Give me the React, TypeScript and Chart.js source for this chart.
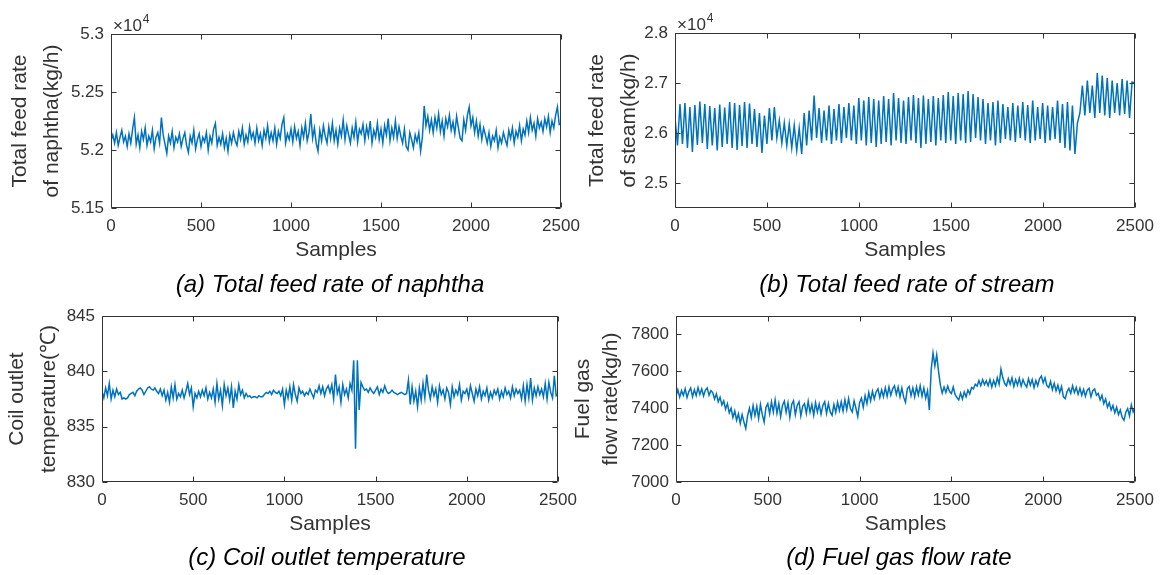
import React, { useEffect, useRef } from "react";
import { Chart, registerables } from "chart.js";

Chart.register(...registerables);
Chart.defaults.font.family = "'Liberation Sans', Arial, Helvetica, sans-serif";

// ---------------- data ----------------
const sampleTicks = [0, 500, 1000, 1500, 2000, 2500];
const naphthaTicks = [51500, 52000, 52500, 53000];
const steamTicks = [25000, 26000, 27000, 28000];
const coilTicks = [830, 835, 840, 845];
const fuelTicks = [7000, 7200, 7400, 7600, 7800];

// total feed rate of naphtha (kg/h), one value every 10 samples
const naphthaStep = 10;
const naphthaFeed = [
  52080, 52130, 52060, 52150, 52040, 52110, 52170, 52070, 52120, 52030,
  52140, 52060, 52180, 52280, 52050, 52130, 52020, 52160, 52090, 52190,
  52040, 52120, 52070, 52170, 52010, 52110, 52150, 52060, 52280, 52130,
  52050, 51970, 52120, 52060, 52160, 52020, 52110, 52070, 52140, 52030,
  52100, 52150, 52040, 51980, 52120, 52060, 52170, 52010, 52090, 52140,
  52030, 52110, 52070, 52150, 52000, 52120, 52060, 52180, 52230, 52040,
  52110, 52050, 52140, 52020, 52100, 51990, 52130, 52060, 52150, 52080,
  52040, 52160, 52090, 52190, 52050, 52130, 52070, 52200, 52100, 52150,
  52060, 52190, 52080, 52140, 52040, 52170, 52100, 52210, 52070, 52150,
  52080, 52190, 52050, 52160, 52100, 52220, 52280, 52060, 52140, 52090,
  52180, 52070, 52200, 52100, 52160, 52040, 52190, 52110, 52230, 52080,
  52150, 52310, 52100, 52190, 52060, 51990, 52170, 52080, 52210, 52120,
  52060, 52200, 52100, 52230, 52080, 52170, 52050, 52190, 52120, 52260,
  52090, 52210, 52130, 52060, 52190, 52110, 52240, 52070, 52180, 52140,
  52220, 52080, 52200, 52120, 52250, 52060, 52170, 52110, 52230, 52090,
  52180, 52060, 52210, 52130, 52270, 52080, 52190, 52110, 52250, 52100,
  52200, 52120, 52060, 52180, 52030, 52000, 52150, 52090, 52020, 52130,
  52070, 52150, 51990, 52110, 52380, 52210, 52290, 52170, 52260, 52150,
  52280, 52190, 52310, 52160, 52250, 52120, 52270, 52200, 52300, 52170,
  52240, 52140, 52290, 52190, 52100, 52080, 52260, 52170, 52300, 52370,
  52210, 52280, 52150, 52250, 52120, 52220, 52090, 52190, 52130, 52060,
  52150, 52030, 52120, 52080, 52170, 52020, 52110, 52060, 52150, 52090,
  52040, 52170, 52100, 52190, 52060, 52160, 52110, 52210, 52080, 52180,
  52130, 52250, 52150, 52280, 52170, 52230, 52120, 52270, 52190, 52240,
  52160, 52270, 52200, 52290, 52150, 52250, 52190, 52300, 52370, 52220,
  52230,
];

// total feed rate of steam (kg/h), peaks and troughs every 13.5 samples
const steamStep = 13.5;
const steamFeed = [
  26300, 25750, 26580, 25780, 26600, 25700, 26520, 25620, 26560, 25760,
  26630, 25800, 26580, 25680, 26540, 25750, 26500, 25650, 26570, 25720,
  26510, 25780, 26620, 25700, 26600, 25660, 26560, 25740, 26620, 25700,
  26590, 25780, 26480, 25720, 26400, 25600, 26350, 25780, 26500, 25850,
  26520, 25900, 26250, 25800, 26200, 25750, 26180, 25700, 26150, 25650,
  26100, 25580, 26400, 25750, 26450, 25850, 26750, 25900, 26500, 25800,
  26450, 25850, 26550, 25780, 26480, 25850, 26580, 25800, 26520, 25900,
  26600, 25850, 26550, 25780, 26700, 25850, 26650, 25750, 26720, 25800,
  26680, 25720, 26650, 25780, 26740, 25820, 26680, 25750, 26800, 25850,
  26700, 25800, 26650, 25780, 26720, 25850, 26760, 25800, 26700, 25700,
  26750, 25780, 26680, 25820, 26740, 25750, 26700, 25850, 26760, 25800,
  26820, 25850, 26740, 25780, 26800, 25850, 26780, 25800, 26840, 25820,
  26780, 25900, 26720, 25850, 26680, 25780, 26600, 25850, 26620, 25750,
  26650, 25800, 26580, 25880, 26520, 25850, 26600, 25820, 26550, 25900,
  26620, 25850, 26560, 25800, 26650, 25850, 26520, 25880, 26600, 25800,
  26550, 25850, 26520, 25880, 26650, 25800, 26580, 25700, 26620, 25650,
  26550, 25580, 26200, 26400, 26950, 26350, 27050, 26400, 26950, 26300,
  27200, 26400, 27150, 26350, 27100, 26300, 27050, 26400, 27000, 26350,
  27080, 26380, 27050, 26300, 27020, 27000,
];

// coil outlet temperature (°C), one value every 10 samples
const coilStep = 10;
const coilTemp = [
  838.2, 837.6, 838.5, 837.8, 838.9, 837.5, 838.3, 837.7, 838.4, 837.9,
  838.1, 837.5, 837.6, 837.5, 837.6, 837.9, 838.0, 838.1, 837.8, 838.2,
  838.4, 838.5, 838.3, 837.9, 838.2, 838.5, 838.6, 838.4, 838.3, 838.5,
  838.2, 838.0, 838.4, 837.8, 838.3, 837.4, 838.1, 837.2, 838.6, 837.6,
  838.8, 837.5, 838.0, 837.7, 838.3, 837.6, 838.2, 838.9, 837.9, 838.5,
  836.8, 838.0, 837.6, 838.2, 837.7, 838.3, 837.8, 838.5, 837.5, 838.1,
  837.6, 838.4, 837.2, 838.9, 837.5, 838.3, 836.9, 838.8, 837.8, 838.5,
  837.4, 838.6, 836.7, 838.2, 837.5, 838.8, 837.9, 838.3, 837.6, 838.0,
  837.7, 837.8, 837.6, 837.7, 837.7, 837.6, 837.8, 837.7, 837.7, 837.9,
  838.1, 838.0, 838.2, 837.9, 838.3, 838.1, 838.0, 838.2, 837.8, 838.4,
  837.0, 838.3, 837.6, 838.6, 837.4, 838.8, 837.9, 837.3, 838.5, 838.0,
  838.2, 837.8, 838.1, 837.9, 838.4, 838.0, 837.6, 838.3, 838.1, 838.7,
  838.0, 838.6, 837.8, 838.4, 838.7, 838.1, 838.8, 837.5, 839.7, 838.0,
  838.6, 837.2, 838.8, 837.9, 838.4, 837.6, 838.9, 838.3, 841.0, 833.0,
  841.0, 836.5, 839.0, 838.6, 838.3, 838.4, 838.1, 838.5, 838.2, 838.0,
  838.3, 838.6, 837.9, 838.4, 838.1, 838.7, 838.2, 838.0, 838.1, 838.3,
  838.1, 838.0, 837.9, 838.0, 838.1, 838.0, 837.9, 838.0, 839.2, 837.0,
  838.6, 837.3, 838.2, 836.8, 838.5, 837.4, 838.9, 837.6, 839.7, 838.3,
  837.5, 838.6, 837.8, 838.4, 837.2, 838.7, 837.9, 838.3, 837.5, 838.5,
  838.1, 837.0, 838.6, 837.7, 838.3, 837.9, 838.8, 837.4, 838.2, 838.0,
  838.4, 837.6, 838.7, 838.0, 837.3, 838.4, 837.8, 838.6, 837.5, 838.2,
  837.8, 838.5, 837.4, 838.1, 837.6, 838.3, 837.9, 838.4, 837.5, 838.2,
  837.7, 838.5, 837.9, 838.2, 837.6, 838.6, 837.8, 838.4, 838.0, 838.3,
  837.5, 838.7, 837.3, 838.8, 837.6, 839.4, 837.4, 838.5, 837.8, 838.6,
  837.9, 838.4, 837.7, 838.9, 837.5, 839.0, 838.1, 837.6, 839.6, 837.8,
  838.0,
];

// fuel gas flow rate (kg/h), one value every 10 samples
const fuelStep = 10;
const fuelFlow = [
  7465, 7500, 7460, 7495, 7470, 7505, 7458, 7490, 7510, 7462,
  7500, 7468, 7512, 7475, 7505, 7466, 7498, 7510, 7470, 7495,
  7485, 7450, 7478, 7435, 7460, 7418, 7440, 7395, 7425, 7375,
  7400, 7350, 7385, 7335, 7370, 7318, 7365, 7325, 7290, 7360,
  7400, 7350, 7415, 7360, 7410, 7345, 7420, 7365, 7325, 7405,
  7425, 7370, 7435, 7380, 7445, 7372, 7425, 7355, 7415, 7438,
  7378, 7430, 7350, 7420, 7440, 7365, 7415, 7435, 7358, 7410,
  7425, 7372, 7438, 7378, 7420, 7362, 7430, 7380, 7422, 7368,
  7415, 7435, 7372, 7425, 7380, 7362, 7420, 7378, 7432, 7388,
  7435, 7385, 7445, 7392, 7452, 7398, 7380, 7440, 7400, 7355,
  7430, 7455, 7405, 7468, 7425, 7485, 7440, 7492, 7450, 7488,
  7505, 7458, 7500, 7462, 7510, 7465, 7515, 7470, 7505, 7522,
  7475, 7515, 7462, 7510, 7460, 7432, 7505, 7518, 7468, 7510,
  7462, 7515, 7472, 7522, 7465, 7510, 7455, 7495, 7390, 7610,
  7700, 7630, 7690, 7600, 7525, 7482, 7515, 7485, 7520, 7490,
  7480, 7515, 7475, 7458, 7445, 7482, 7450, 7488, 7462, 7498,
  7478, 7512, 7505, 7530, 7520, 7550, 7522, 7555, 7528, 7548,
  7522, 7555, 7515, 7550, 7522, 7565, 7530, 7612, 7565, 7535,
  7522, 7560, 7530, 7565, 7518, 7555, 7525, 7562, 7520, 7555,
  7530, 7515, 7560, 7525, 7555, 7512, 7550, 7522, 7560, 7575,
  7538, 7565, 7522, 7512, 7545, 7500, 7535, 7495, 7525, 7485,
  7518, 7462, 7452, 7490, 7508, 7480, 7522, 7485, 7512, 7475,
  7508, 7470, 7502, 7465, 7498, 7508, 7462, 7495, 7505, 7470,
  7480, 7445, 7470, 7425, 7450, 7405, 7430, 7390, 7415, 7375,
  7405, 7365, 7390, 7350, 7335, 7378, 7398, 7358, 7418, 7380,
  7405,
];

// ---------------- styling ----------------
const LINE_COLOR = "#0072BD";
const AXIS_COLOR = "#333333";
const TEXT_COLOR = "#333333";

const framePlugin = {
  id: "frame",
  afterDatasetsDraw(chart: any, _args: any, opts: any) {
    const { ctx, chartArea, scales } = chart;
    const { left, right, top, bottom } = chartArea;
    const L = Math.round(left) + 0.5;
    const R = Math.round(right) - 0.5;
    const T = Math.round(top) + 0.5;
    const B = Math.round(bottom) - 0.5;
    const tick = 5;
    ctx.save();
    ctx.strokeStyle = AXIS_COLOR;
    ctx.lineWidth = 1;
    ctx.beginPath();
    ctx.moveTo(L, T);
    ctx.lineTo(R, T);
    ctx.lineTo(R, B);
    ctx.lineTo(L, B);
    ctx.closePath();
    scales.x.ticks.forEach((t: any) => {
      const px = Math.round(scales.x.getPixelForValue(t.value)) + 0.5;
      ctx.moveTo(px, B);
      ctx.lineTo(px, B - tick);
      ctx.moveTo(px, T);
      ctx.lineTo(px, T + tick);
    });
    scales.y.ticks.forEach((t: any) => {
      const py = Math.round(scales.y.getPixelForValue(t.value)) + 0.5;
      ctx.moveTo(L, py);
      ctx.lineTo(L + tick, py);
      ctx.moveTo(R, py);
      ctx.lineTo(R - tick, py);
    });
    ctx.stroke();
    if (opts && opts.exponent) {
      ctx.fillStyle = TEXT_COLOR;
      ctx.textBaseline = "alphabetic";
      ctx.textAlign = "left";
      ctx.font = "17px 'Liberation Sans', Arial, sans-serif";
      const base = "\u00d710";
      ctx.fillText(base, left + 2, top - 3);
      const w = ctx.measureText(base).width;
      ctx.font = "12px 'Liberation Sans', Arial, sans-serif";
      ctx.fillText(opts.exponent, left + 3 + w, top - 11);
    }
    ctx.restore();
  },
};

type PanelCfg = {
  left: number;
  top: number;
  width: number;
  height: number;
  padTop: number;
  padRight: number;
  yWidth: number;
  xHeight: number;
  yMin: number;
  yMax: number;
  yTicks: number[];
  fmt: (v: number) => string;
  values: number[];
  step: number;
  title: string[];
  titlePad: number;
  titleLine: number;
  exponent: string;
};

const panels: PanelCfg[] = [
  {
    left: 0, top: 0, width: 600, height: 270, padTop: 34, padRight: 39,
    yWidth: 111, xHeight: 62, yMin: 51500, yMax: 53000, yTicks: naphthaTicks,
    fmt: (v) => String(v / 1e4), values: naphthaFeed, step: naphthaStep,
    title: ["Total feed rate", "of naphtha(kg/h)"], titlePad: 4, titleLine: 32, exponent: "4",
  },
  {
    left: 560, top: 0, width: 602, height: 270, padTop: 33, padRight: 27,
    yWidth: 115, xHeight: 62, yMin: 24500, yMax: 28000, yTicks: steamTicks,
    fmt: (v) => String(v / 1e4), values: steamFeed, step: steamStep,
    title: ["Total feed rate", "of steam(kg/h)"], titlePad: 21.5, titleLine: 32, exponent: "4",
  },
  {
    left: 0, top: 276, width: 600, height: 268, padTop: 40, padRight: 42,
    yWidth: 102, xHeight: 62, yMin: 830, yMax: 845, yTicks: coilTicks,
    fmt: (v) => String(v), values: coilTemp, step: coilStep,
    title: ["Coil outlet", "temperature(\u2103)"], titlePad: 1.5, titleLine: 32, exponent: "",
  },
  {
    left: 560, top: 276, width: 602, height: 268, padTop: 40, padRight: 27,
    yWidth: 116, xHeight: 62, yMin: 7000, yMax: 7900, yTicks: fuelTicks,
    fmt: (v) => String(v), values: fuelFlow, step: fuelStep,
    title: ["Fuel gas", "flow rate(kg/h)"], titlePad: 9.5, titleLine: 28, exponent: "",
  },
];

const captions = [
  { text: "(a) Total feed rate of naphtha", cx: 330, cy: 284 },
  { text: "(b) Total feed rate of stream", cx: 907, cy: 284 },
  { text: "(c) Coil outlet temperature", cx: 327, cy: 557 },
  { text: "(d) Fuel gas flow rate", cx: 899, cy: 557 },
];

function Panel({ cfg }: { cfg: PanelCfg }) {
  const ref = useRef<HTMLCanvasElement>(null);
  useEffect(() => {
    if (!ref.current) return;
    const chart = new Chart(ref.current, {
      type: "line",
      data: {
        datasets: [
          {
            data: cfg.values.map((v, i) => ({ x: i * cfg.step, y: v })),
            borderColor: LINE_COLOR,
            borderWidth: 1.5,
            pointRadius: 0,
            tension: 0,
            fill: false,
          },
        ],
      },
      options: {
        animation: false,
        responsive: false,
        events: [],
        layout: { padding: { top: cfg.padTop, right: cfg.padRight, bottom: 0, left: 0 } },
        plugins: {
          legend: { display: false },
          tooltip: { enabled: false },
          // @ts-ignore
          frame: { exponent: cfg.exponent },
        },
        scales: {
          x: {
            type: "linear",
            min: 0,
            max: 2500,
            afterBuildTicks: (s: any) => {
              s.ticks = sampleTicks.map((v) => ({ value: v }));
            },
            afterFit: (s: any) => {
              s.height = cfg.xHeight;
            },
            grid: { display: false, drawTicks: false },
            border: { display: false },
            ticks: {
              padding: 8,
              color: TEXT_COLOR,
              font: { size: 17 },
              maxRotation: 0,
              autoSkip: false,
              callback: (v: any) => String(v),
            },
            title: {
              display: true,
              text: "Samples",
              color: TEXT_COLOR,
              font: { size: 21 },
              padding: { top: 0, bottom: 7.4 },
            },
          },
          y: {
            type: "linear",
            min: cfg.yMin,
            max: cfg.yMax,
            afterBuildTicks: (s: any) => {
              s.ticks = cfg.yTicks.map((v) => ({ value: v }));
            },
            afterFit: (s: any) => {
              s.width = cfg.yWidth;
            },
            grid: { display: false, drawTicks: false },
            border: { display: false },
            ticks: {
              padding: 7,
              color: TEXT_COLOR,
              font: { size: 17 },
              callback: (v: any) => cfg.fmt(Number(v)),
            },
            title: {
              display: true,
              text: cfg.title,
              color: TEXT_COLOR,
              font: { size: 21, lineHeight: cfg.titleLine + "px" },
              padding: { top: cfg.titlePad, bottom: 0 },
            },
          },
        },
      } as any,
      plugins: [framePlugin],
    });
    return () => chart.destroy();
  }, [cfg]);
  return (
    <canvas
      ref={ref}
      width={cfg.width}
      height={cfg.height}
      style={{ position: "absolute", left: cfg.left, top: cfg.top, width: cfg.width, height: cfg.height }}
    />
  );
}

export default function App() {
  return (
    <div
      style={{
        position: "absolute",
        left: 0,
        top: 0,
        width: 1162,
        height: 575,
        background: "#ffffff",
        overflow: "hidden",
      }}
    >
      {panels.map((p, i) => (
        <Panel key={i} cfg={p} />
      ))}
      {captions.map((c, i) => (
        <div
          key={"c" + i}
          style={{
            position: "absolute",
            left: c.cx - 250,
            top: c.cy - 14,
            width: 500,
            height: 28,
            lineHeight: "28px",
            textAlign: "center",
            fontFamily: "'Liberation Sans', Arial, sans-serif",
            fontStyle: "italic",
            fontSize: 24,
            color: "#000",
            whiteSpace: "nowrap",
          }}
        >
          {c.text}
        </div>
      ))}
    </div>
  );
}
